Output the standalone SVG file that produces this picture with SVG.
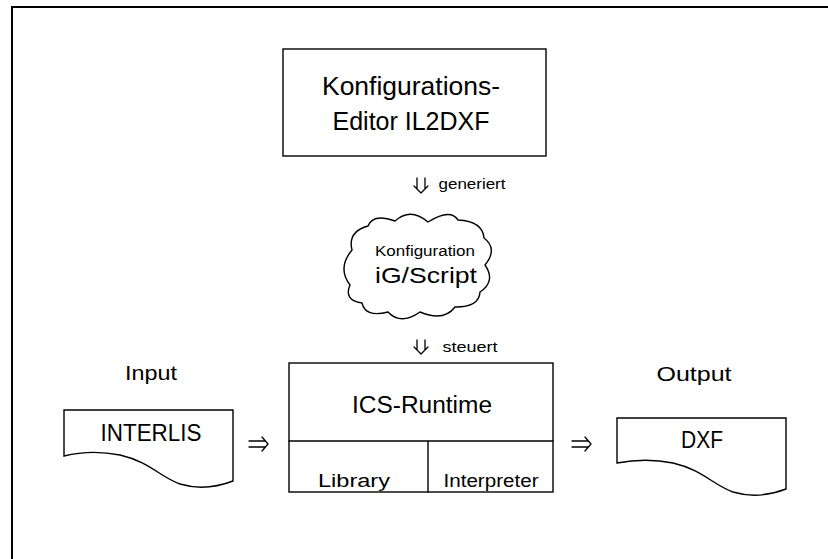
<svg xmlns="http://www.w3.org/2000/svg" width="828" height="559" viewBox="0 0 828 559">
<style>
.s{fill:none;stroke:#000;stroke-width:1.4;stroke-linejoin:round;stroke-linecap:round}
.f{fill:#fff;stroke:#000;stroke-width:1.4}
text{font-family:"Liberation Sans","DejaVu Sans",sans-serif;fill:#000;text-anchor:middle}
.a{fill:none;stroke:#000;stroke-width:1.3;stroke-linecap:round;stroke-linejoin:round}
</style>
<rect x="0" y="0" width="828" height="559" fill="#fff"/>
<path d="M12,559 V7 H828" fill="none" stroke="#000" stroke-width="2"/>
<g id="editor">
<rect class="f" x="283" y="49" width="263" height="107"/>
<text x="411" y="95" font-size="25" textLength="178" lengthAdjust="spacingAndGlyphs">Konfigurations-</text>
<text x="411" y="130" font-size="25" textLength="157" lengthAdjust="spacingAndGlyphs">Editor IL2DXF</text>
</g>
<g id="config">
<path class="f" d="M352,250 Q347.4,231.8 368,226 Q372.9,213 395,221 Q410.5,207 428,222 Q450.3,208 458,220 Q482.8,221.4 484,238 Q498.2,248.8 485,265 Q496.2,281.2 480,292 Q479.2,307.2 455,307 Q443.8,322 420,312 Q400.8,325.6 388,312 Q365.4,317.7 362,303 Q343.4,300.2 350,285 Q337,268 352,250 Z"/>
<text x="425" y="256" font-size="14" textLength="100" lengthAdjust="spacingAndGlyphs">Konfiguration</text>
<text x="426" y="283" font-size="22" textLength="102" lengthAdjust="spacingAndGlyphs">iG/Script</text>
</g>
<g id="input">
<text x="151" y="380" font-size="21" textLength="52" lengthAdjust="spacingAndGlyphs">Input</text>
<path class="f" d="M64,410 H233 V481 C220,486 200,490 180,484 C160,477 150,462 120,455 C100,451 80,452 64,456 Z"/>
<text x="151" y="441" font-size="23" textLength="101" lengthAdjust="spacingAndGlyphs">INTERLIS</text>
</g>
<g id="runtime">
<rect class="f" x="289" y="363" width="264" height="129"/>
<path class="s" d="M289,441 H553 M428,441 V492"/>
<text x="422" y="413" font-size="23" textLength="140" lengthAdjust="spacingAndGlyphs">ICS-Runtime</text>
<text x="354" y="487" font-size="18" textLength="72" lengthAdjust="spacingAndGlyphs">Library</text>
<text x="491" y="487" font-size="18" textLength="95" lengthAdjust="spacingAndGlyphs">Interpreter</text>
</g>
<g id="output">
<text x="694" y="381" font-size="21" textLength="75" lengthAdjust="spacingAndGlyphs">Output</text>
<path class="f" d="M617,418 H786 V489 C773,494 753,498 733,492 C713,485 703,470 673,463 C653,459 633,460 617,463 Z"/>
<text x="702" y="448" font-size="23" textLength="42" lengthAdjust="spacingAndGlyphs">DXF</text>
</g>
<g id="connectors">
<path class="a" d="M417,178 V189 M425,178 V189 M414,186 L421,193 L428,186"/>
<text x="472" y="189" font-size="14" textLength="67" lengthAdjust="spacingAndGlyphs">generiert</text>
<path class="a" d="M417,340 V350 M425,340 V350 M414,347 L421,354 L428,347"/>
<text x="470" y="352" font-size="14" textLength="55" lengthAdjust="spacingAndGlyphs">steuert</text>
<path class="a" d="M249,441 H265 M249,447 H265 M262,437 L268,444 L262,451"/>
<path class="a" d="M572,441 H588 M572,447 H588 M585,437 L591,444 L585,451"/>
</g>
</svg>
